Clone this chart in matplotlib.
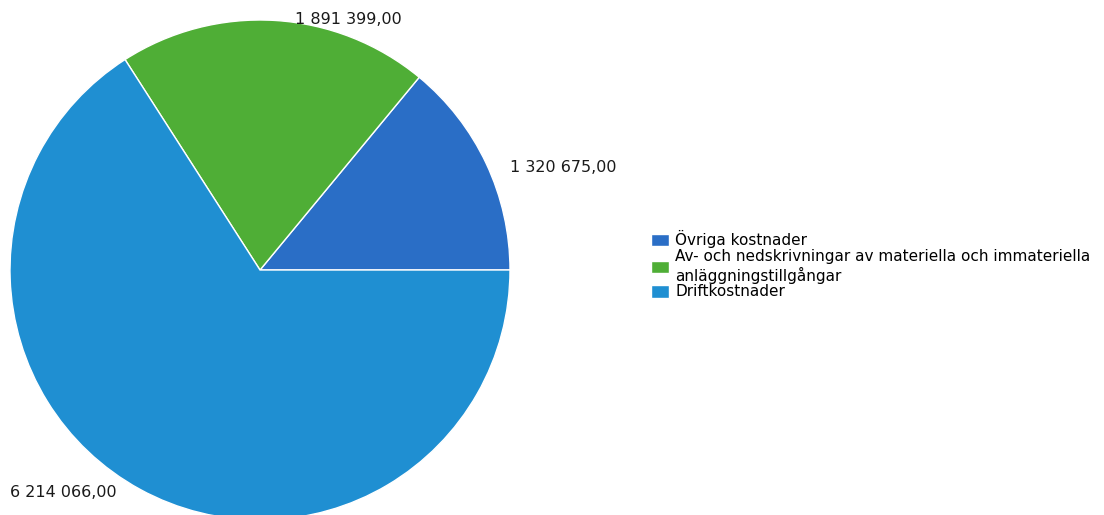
import matplotlib.pyplot as plt

# values
categories = ['Övriga kostnader',
              'Av- och nedskrivningar av materiella och immateriella\nanläggningstillgångar',
              'Driftkostnader']
values = [1320675.00, 1891399.00, 6214066.00]
value_labels = ['1 320 675,00', '1 891 399,00', '6 214 066,00']
colors = ['#2a6ec6', '#4fae36', '#1f8fd2']

# label anchor points (pie radius = 1), hand placed like the original
label_pos = [(1.0, 0.41), (0.14, 1.0), (-1.0, -0.89)]


def main():
    fig = plt.figure(figsize=(11.04, 5.15), dpi=100)
    # axes spans the left part of the figure, 250 px per data unit
    ax = fig.add_axes([0, 0, 560 / 1104, 1])
    wedges, _ = ax.pie(values, colors=colors, startangle=0, counterclock=True,
                       radius=1.0, wedgeprops=dict(edgecolor='white', linewidth=1))
    ax.set_xlim(-260 / 250, 300 / 250)
    ax.set_ylim(-245 / 250, 270 / 250)
    ax.set_aspect('auto')
    ax.axis('off')

    for (x, y), txt in zip(label_pos, value_labels):
        ax.text(x, y, txt, ha='left', va='center', fontsize=11.5,
                color='#1a1a1a', clip_on=False)

    fig.legend(wedges, categories, loc='upper left',
               bbox_to_anchor=(0.584, 0.565), frameon=False, fontsize=11,
               handlelength=1.2, handleheight=0.9, handletextpad=0.4,
               labelspacing=0.05, borderaxespad=0)

    fig.savefig('out.png', dpi=100)


if __name__ == '__main__':
    main()
